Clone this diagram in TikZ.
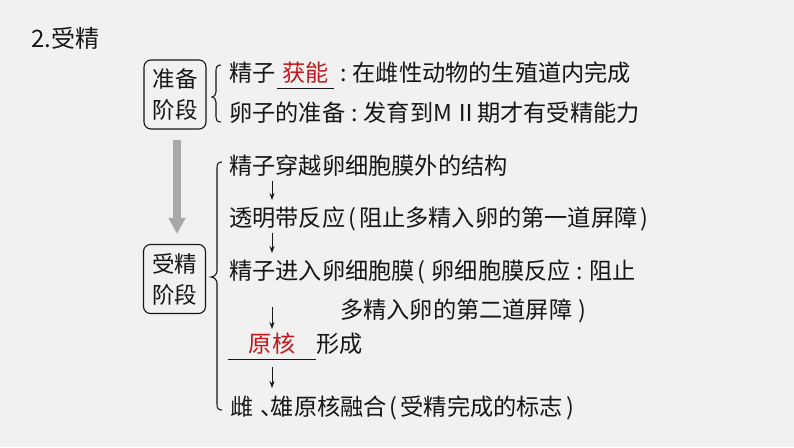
\documentclass[tikz,border=0pt]{standalone}
\usepackage{fontspec}
\setmainfont{Noto Sans CJK SC}
\usetikzlibrary{arrows.meta}
\definecolor{bggray}{RGB}{241,241,241}
\definecolor{keyred}{RGB}{192,24,28}
\definecolor{flowgray}{RGB}{168,168,168}
\definecolor{ink}{RGB}{22,22,22}
\newcommand\lp{\makebox[0.6em][c]{(}}
\newcommand\rp{\makebox[0.6em][c]{)}}
\newcommand\cl{\makebox[0.8em][c]{:}}
\begin{document}
\begin{tikzpicture}[x=1pt, y=-1pt, >={Stealth[length=7pt,width=5pt]}, ink]
    \tikzstyle{stage}=[draw, rounded corners=7pt, line width=1.1pt, minimum width=62pt, minimum height=69pt, align=center, inner sep=0pt, font=\fontsize{22.5}{31}\selectfont]
    \tikzstyle{txt}=[anchor=west, inner sep=0pt, text height=18.5pt, text depth=5pt, font=\fontsize{23.2}{28}\selectfont]
    \tikzstyle{blank}=[txt, anchor=center, inner ysep=1pt, text=keyred]
    \tikzstyle{flow}=[->, line width=0.9pt]

    \useasboundingbox[fill=bggray] (0,0) rectangle (794,447);

    \node[anchor=west, inner sep=0pt, font=\fontsize{24}{28}\selectfont] (title) at (31,38) {2.受精};

    % preparation stage
    \node[stage] (prepbox) at (175,94.5) {准备\\阶段};
    \node[txt] (sperm) at (229,75) {精子};
    \node[blank, minimum width=57pt] (capac) at (305.5,75) {获能};
    \node[txt] (capdesc) at (334,75) {\cl 在雌性动物的生殖道内完成};
    \node[txt] (eggprep) at (229,115) {卵子的准备\cl 发育到M\hspace{2pt}Ⅱ期才有受精能力};
    \draw[line width=0.9pt] (capac.south west) -- (capac.south east);
    \draw[line width=1.1pt] (221,65) .. controls (217,65) and (216,67) .. (216,71) -- (216,92)
        .. controls (216,95) and (214,97) .. (212,97) .. controls (214,97) and (216,99) .. (216,102)
        -- (216,117) .. controls (216,120) and (217,122) .. (221,122);

    % fertilization stage
    \node[stage] (fertbox) at (174.5,279) {受精\\阶段};
    \draw[-{Triangle[length=16pt,width=16pt]}, line width=8pt, flowgray, shorten <=10pt, shorten >=10pt]
        ([xshift=2pt]prepbox.south) -- ([xshift=2.5pt]fertbox.north);
    \draw[line width=1.1pt] (222,162) .. controls (218,162) and (217,164) .. (217,168) -- (217,271)
        .. controls (217,274) and (214,277) .. (211,277) .. controls (214,277) and (217,280) .. (217,283)
        -- (217,404) .. controls (217,408) and (218,410) .. (222,410);

    \node[txt] (step1) at (229,168) {精子穿越卵细胞膜外的结构};
    \node[txt] (step2) at (229,220) {透明带反应\lp 阻止多精入卵的第一道屏障\rp};
    \node[txt] (step3) at (229,273) {精子进入卵细胞膜\lp\hspace{3pt}卵细胞膜反应\cl 阻止};
    \node[txt] (step3b) at (340,312) {多精入卵的第二道屏障\hspace{3pt}\rp};
    \node[blank, minimum width=88pt] (pronuc) at (272,346) {原核};
    \node[txt] (form) at (316,346) {形成};
    \node[txt] (step5) at (230,409) {雌\hspace{0.3em}\makebox[0.45em][l]{、}雄原核融合\lp 受精完成的标志\rp};
    \draw[line width=0.9pt] (pronuc.south west) -- (pronuc.south east);

    \coordinate (ax) at (272,0);
    \draw[flow, shorten <=1pt, shorten >=8pt] (step1.south -| ax) -- (step2.north -| ax);
    \draw[flow, shorten <=1pt, shorten >=8pt] (step2.south -| ax) -- (step3.north -| ax);
    \draw[flow, shorten <=7pt, shorten >=4pt] (step3b.north -| ax) -- (pronuc.north -| ax);
    \draw[flow, shorten <=8pt, shorten >=9pt] (pronuc.south -| ax) -- (step5.north -| ax);
\end{tikzpicture}
\end{document}
